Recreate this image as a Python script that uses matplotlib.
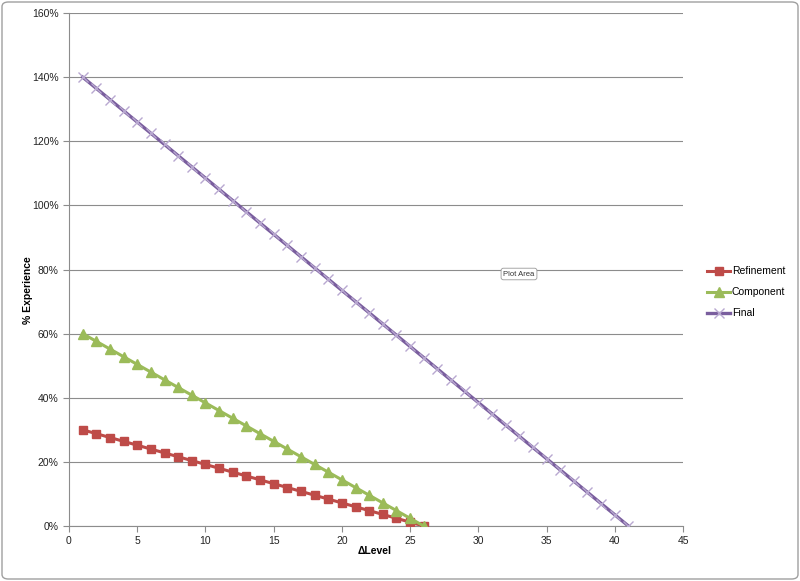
import matplotlib
matplotlib.use("Agg")
import matplotlib.pyplot as plt
from matplotlib.patches import FancyBboxPatch
from matplotlib.ticker import FuncFormatter, MultipleLocator

levels_short = list(range(1, 27))
levels_final = list(range(1, 42))
refinement = [30.0, 28.8, 27.6, 26.4, 25.2, 24.0, 22.8, 21.6, 20.4, 19.2, 18.0, 16.8, 15.6,
              14.4, 13.2, 12.0, 10.8, 9.6, 8.4, 7.2, 6.0, 4.8, 3.6, 2.4, 1.2, 0.0]
component = [60.0, 57.6, 55.2, 52.8, 50.4, 48.0, 45.6, 43.2, 40.8, 38.4, 36.0, 33.6, 31.2,
             28.8, 26.4, 24.0, 21.6, 19.2, 16.8, 14.4, 12.0, 9.6, 7.2, 4.8, 2.4, 0.0]
final = [140.0, 136.5, 133.0, 129.5, 126.0, 122.5, 119.0, 115.5, 112.0, 108.5, 105.0, 101.5,
         98.0, 94.5, 91.0, 87.5, 84.0, 80.5, 77.0, 73.5, 70.0, 66.5, 63.0, 59.5, 56.0, 52.5,
         49.0, 45.5, 42.0, 38.5, 35.0, 31.5, 28.0, 24.5, 21.0, 17.5, 14.0, 10.5, 7.0, 3.5, 0.0]

plt.rcParams['font.family'] = ['Liberation Sans', 'DejaVu Sans']

fig = plt.figure(figsize=(8, 5.81), dpi=100)
ax = fig.add_axes([69/800, 1-526/581, (683-69)/800, (526-13)/581])

ax.plot(levels_short, refinement, color='#BE4B48', lw=2.2, marker='s', ms=6.3,
        mec='#BE4B48', mfc='#BE4B48', label='Refinement', zorder=3)
ax.plot(levels_short, component, color='#9BBB59', lw=2.2, marker='^', ms=6.8,
        mec='#9BBB59', mfc='#9BBB59', label='Component', zorder=3)
ax.plot(levels_final, final, color='#7A5E9E', lw=2.4, marker='x', ms=7, mew=1.0,
        mec='#B8A8D0', label='Final', zorder=3)

ax.set_xlim(0, 45)
ax.set_ylim(0, 160)
ax.xaxis.set_major_locator(MultipleLocator(5))
ax.yaxis.set_major_locator(MultipleLocator(20))
ax.yaxis.set_major_formatter(FuncFormatter(lambda v, p: f"{int(round(v))}%"))
ax.grid(axis='y', color='#8C8C8C', lw=0.8)
ax.set_axisbelow(True)
for s in ['top', 'right']:
    ax.spines[s].set_visible(False)
for s in ['left', 'bottom']:
    ax.spines[s].set_color('#8C8C8C')
    ax.spines[s].set_linewidth(0.8)
ax.tick_params(axis='both', colors='#8C8C8C', labelcolor='#222222', labelsize=7.5,
               length=4, width=0.8, direction='out')

fig.text(28/800, 1-290/581, '% Experience', rotation=90, ha='center', va='center',
         fontsize=7.5, fontweight='bold')
fig.text(375/800, 1-551/581, '\u0394Level', ha='center', va='center',
         fontsize=7.5, fontweight='bold')

leg = fig.legend(loc='upper left', bbox_to_anchor=(698/800, 1-257/581), frameon=False,
                 fontsize=7.5, handlelength=2.2, labelspacing=1.05, handletextpad=0.15)

t = ax.text(519, 581-274, 'Plot Area', transform=None, fontsize=5.5, ha='center', va='center',
            color='#333333', bbox=dict(boxstyle='round,pad=0.3', fc='white', ec='#999999', lw=0.6))

border = FancyBboxPatch((2/800, 2/581), 796/800, 577/581, boxstyle='round,pad=0,rounding_size=0.008',
                        transform=fig.transFigure, fc='none', ec='#A0A0A0', lw=1.0)
fig.patches.append(border)

fig.savefig('out.png', dpi=100)
